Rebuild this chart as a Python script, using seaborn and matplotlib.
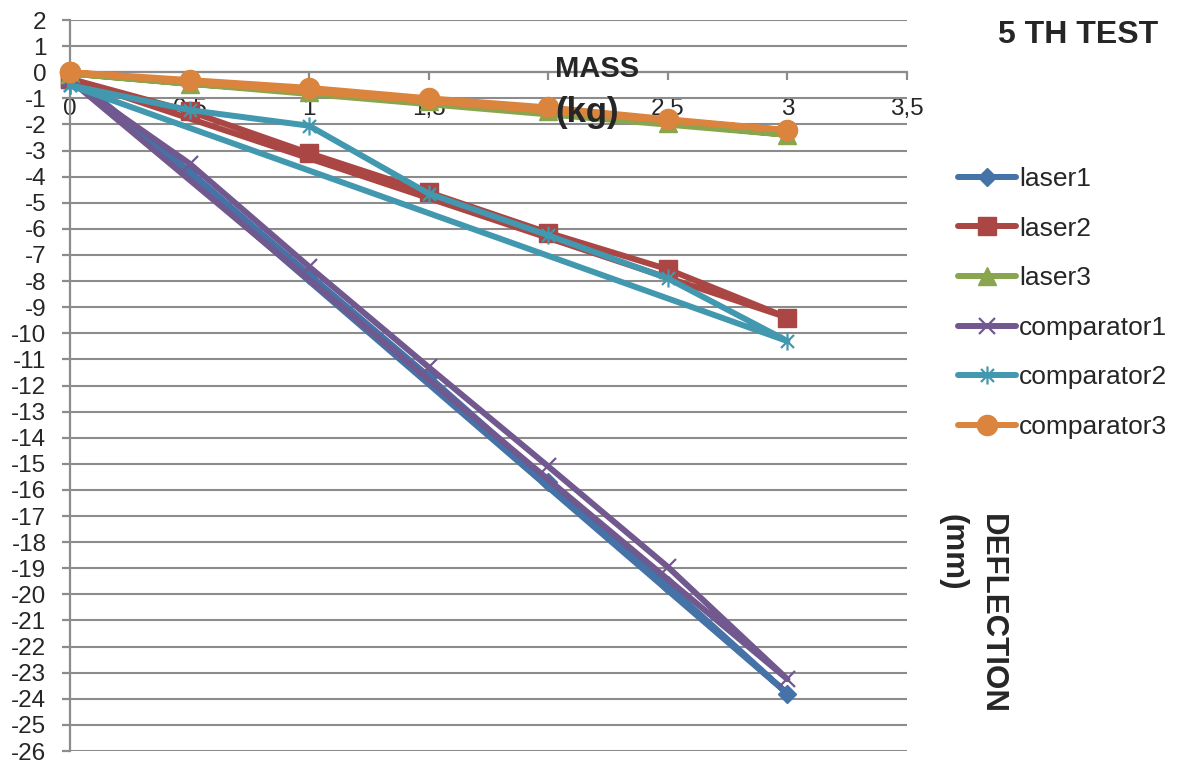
import matplotlib
matplotlib.use("Agg")
import matplotlib.pyplot as plt
from matplotlib.path import Path
from matplotlib.lines import Line2D
import seaborn as sns
import pandas as pd

# Load applied at the free end (kg)
mass = [0, 0.5, 1, 1.5, 2, 2.5, 3]

# Measured deflections (mm)
laser1 = [-0.1, -3.8, -7.75, -11.65, -15.7, -19.65, -23.8]
laser2 = [-0.25, -1.5, -3.1, -4.6, -6.15, -7.55, -9.4]
laser3 = [-0.05, -0.45, -0.75, -1.1, -1.5, -1.95, -2.4]
comparator1 = [-0.3, -3.5, -7.45, -11.3, -15.1, -18.95, -23.25]
comparator2 = [-0.5, -1.45, -2.05, -4.65, -6.25, -7.9, -10.3]
comparator3 = [0, -0.3, -0.6, -1.0, -1.35, -1.8, -2.22]

series_names = ["laser1", "laser2", "laser3", "comparator1", "comparator2", "comparator3"]
series_values = [laser1, laser2, laser3, comparator1, comparator2, comparator3]

x_ticks = [0, 0.5, 1, 1.5, 2, 2.5, 3, 3.5]
x_tick_labels = ["0", "0,5", "1", "1,5", "2", "2,5", "3", "3,5"]
y_ticks = list(range(2, -27, -1))
y_tick_labels = [str(v) for v in y_ticks]

# Excel-style star marker: vertical bar plus a cross
star_path = Path(
    [(0, -1), (0, 1), (-0.72, -0.72), (0.72, 0.72), (-0.72, 0.72), (0.72, -0.72)],
    [Path.MOVETO, Path.LINETO, Path.MOVETO, Path.LINETO, Path.MOVETO, Path.LINETO],
)

styles = {
    "laser1": dict(color="#4572A7", marker="D", ms=9.5, mfc="#4572A7", mew=1),
    "laser2": dict(color="#AA4643", marker="s", ms=12.5, mfc="#AA4643", mew=1),
    "laser3": dict(color="#89A54E", marker="^", ms=13, mfc="#89A54E", mew=1),
    "comparator1": dict(color="#71588F", marker="x", ms=12, mfc="none", mew=1.6),
    "comparator2": dict(color="#4198AF", marker=star_path, ms=13, mfc="none", mew=1.6),
    "comparator3": dict(color="#DB843D", marker="o", ms=14.5, mfc="#DB843D", mew=1),
}

sns.set_style("white")
plt.rcParams["font.family"] = ["Liberation Sans", "DejaVu Sans"]

fig = plt.figure(figsize=(11.77, 7.64), dpi=100)
ax = fig.add_axes([70 / 1177, 13 / 764, 837 / 1177, 731 / 764])

grey = "#8C8C8C"
lw = 4.3

for name, vals in zip(series_names, series_values):
    # each trace runs through the readings and returns to its starting point
    df = pd.DataFrame({"mass": mass + [mass[0]], "deflection": vals + [vals[0]]})
    st = styles[name]
    sns.lineplot(
        data=df, x="mass", y="deflection", ax=ax, sort=False, estimator=None,
        color=st["color"], linewidth=lw, marker=st["marker"], markersize=st["ms"],
        markerfacecolor=st["mfc"], markeredgecolor=st["color"],
        markeredgewidth=st["mew"], zorder=3, clip_on=False,
    )

ax.set_xlim(0, 3.5)
ax.set_ylim(-26, 2)
ax.set_xlabel("")
ax.set_ylabel("")

ax.set_xticks(x_ticks)
ax.set_xticklabels(x_tick_labels)
ax.set_yticks(y_ticks)
ax.set_yticklabels(y_tick_labels)

ax.spines["bottom"].set_position(("data", 0))
for side in ("top", "right"):
    ax.spines[side].set_visible(False)
for side in ("left", "bottom"):
    ax.spines[side].set_color(grey)
    ax.spines[side].set_linewidth(1.6)
    ax.spines[side].set_zorder(2)

ax.tick_params(axis="x", direction="out", length=6, width=1.6, color=grey,
               labelsize=17.5, pad=12.5, bottom=True)
ax.tick_params(axis="y", direction="out", length=6, width=1.6, color=grey,
               labelsize=17.5, pad=11, left=True)

ax.yaxis.grid(True, color=grey, linewidth=1.5)
ax.xaxis.grid(False)
ax.set_axisbelow(True)

ax.text(2.028, -0.18, "MASS", ha="left", va="baseline", fontsize=21,
        fontweight="bold", zorder=5)
ax.text(2.028, -1.9, "(kg)", ha="left", va="baseline", fontsize=25,
        fontweight="bold", zorder=5)

fig.text(998 / 1177, 1 - 42.7 / 764, "5 TH TEST", ha="left", va="baseline",
         fontsize=23, fontweight="bold")
fig.text(1007 / 1177, 1 - 514 / 764, "DEFLECTION\n(mm)", rotation=-90,
         ha="right", va="top", multialignment="left", fontsize=22.5,
         fontweight="bold", linespacing=1.4)

handles = []
for name in series_names:
    st = styles[name]
    handles.append(Line2D([], [], color=st["color"], linewidth=lw,
                          marker=st["marker"], markersize=st["ms"],
                          markerfacecolor=st["mfc"], markeredgecolor=st["color"],
                          markeredgewidth=st["mew"]))
fig.legend(handles, series_names, loc="upper left",
           bbox_to_anchor=(958 / 1177, 1 - 167 / 764), frameon=False,
           fontsize=19, handlelength=2.2, handletextpad=0.12,
           labelspacing=0.97, borderpad=0, borderaxespad=0)

fig.savefig("out.png", dpi=100)
